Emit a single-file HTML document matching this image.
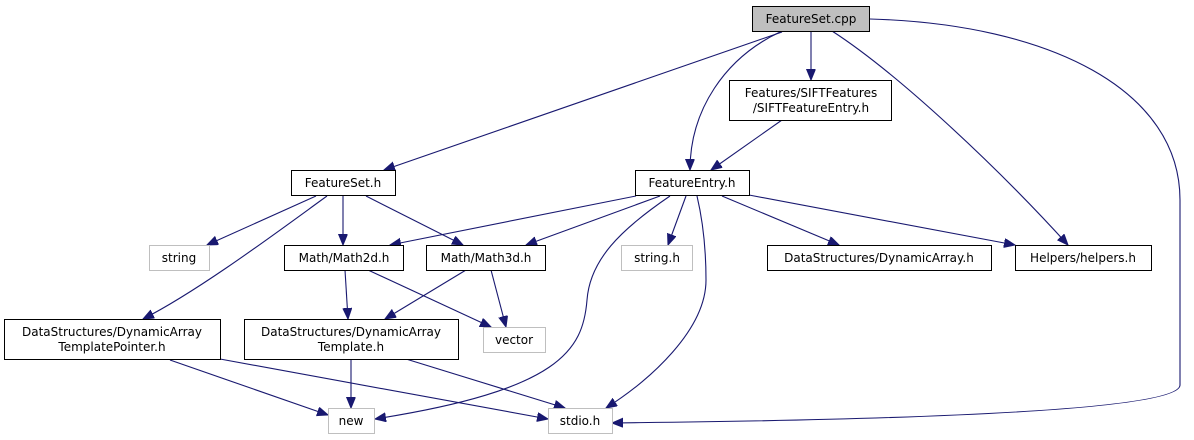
<!DOCTYPE html>
<html><head><meta charset="utf-8"><style>
html,body{margin:0;padding:0;background:#fff;}
svg{display:block;}
text{font-family:"DejaVu Sans","Liberation Sans",sans-serif;font-size:12px;fill:#000;}
</style></head><body>
<svg width="1194" height="440" viewBox="0 0 1194 440" xmlns="http://www.w3.org/2000/svg">
<defs>
<marker id="a" markerUnits="userSpaceOnUse" markerWidth="12" markerHeight="10" refX="11" refY="4.5" orient="auto">
<path d="M0,0 L11,4.5 L0,9 Z" fill="#191970" stroke="#191970"/>
</marker>
</defs>
<g fill="none" stroke="#191970" stroke-width="1.1" marker-end="url(#a)">
<path d="M782,32 L384,170"/>
<path d="M780,32 C725,58 690,110 690,170"/>
<path d="M811,31 L811,80"/>
<path d="M832,31 C900,75 1000,170 1068,245"/>
<path d="M870,19 C1050,24 1180,90 1180,200 L1180,385 C1180,420 660,422 612,423"/>
<path d="M782,120 L711,170"/>
<path d="M636,196 L390,245"/>
<path d="M660,196 L526,245"/>
<path d="M670,196 C620,230 590,260 587,300 C583,350 560,390 375,419"/>
<path d="M686,196 L668,245"/>
<path d="M697,196 C705,230 706,260 706,280 C706,330 650,380 606,408"/>
<path d="M722,196 L839,245"/>
<path d="M749,195 L1015,245"/>
<path d="M316,196 L207,245"/>
<path d="M327,196 C280,230 200,290 143,319"/>
<path d="M343,196 L343,245"/>
<path d="M366,196 L463,245"/>
<path d="M345,270 L348,319"/>
<path d="M368,270 L491,327"/>
<path d="M466,270 L385,319"/>
<path d="M491,270 L506,327"/>
<path d="M170,360 L328,415"/>
<path d="M220,359 L548,419"/>
<path d="M351,359 L351,408"/>
<path d="M406,359 L565,408"/>
</g>
<g stroke-width="1">
<rect x="752.5" y="6.5" width="117" height="25" fill="#bfbfbf" stroke="#000"/>
<rect x="729.5" y="80.5" width="162" height="40" fill="#fff" stroke="#000"/>
<rect x="635.5" y="170.5" width="114" height="25" fill="#fff" stroke="#000"/>
<rect x="621.5" y="245.5" width="71" height="25" fill="#fff" stroke="#bfbfbf"/>
<rect x="767.5" y="245.5" width="224" height="25" fill="#fff" stroke="#000"/>
<rect x="1015.5" y="245.5" width="136" height="25" fill="#fff" stroke="#000"/>
<rect x="291.5" y="170.5" width="104" height="25" fill="#fff" stroke="#000"/>
<rect x="149.5" y="245.5" width="60" height="25" fill="#fff" stroke="#bfbfbf"/>
<rect x="284.5" y="245.5" width="119" height="25" fill="#fff" stroke="#000"/>
<rect x="426.5" y="245.5" width="119" height="25" fill="#fff" stroke="#000"/>
<rect x="4.5" y="319.5" width="216" height="40" fill="#fff" stroke="#000"/>
<rect x="244.5" y="319.5" width="214" height="40" fill="#fff" stroke="#000"/>
<rect x="483.5" y="327.5" width="62" height="25" fill="#fff" stroke="#bfbfbf"/>
<rect x="328.5" y="408.5" width="46" height="25" fill="#fff" stroke="#bfbfbf"/>
<rect x="548.5" y="408.5" width="64" height="25" fill="#fff" stroke="#bfbfbf"/>
</g>
<g text-anchor="middle">
<text x="811" y="23">FeatureSet.cpp</text>
<text x="811" y="97">Features/SIFTFeatures</text>
<text x="811" y="112">/SIFTFeatureEntry.h</text>
<text x="692" y="187">FeatureEntry.h</text>
<text x="657" y="262">string.h</text>
<text x="879" y="262">DataStructures/DynamicArray.h</text>
<text x="1083" y="262">Helpers/helpers.h</text>
<text x="343" y="187">FeatureSet.h</text>
<text x="179" y="262">string</text>
<text x="344" y="262">Math/Math2d.h</text>
<text x="486" y="262">Math/Math3d.h</text>
<text x="112" y="336">DataStructures/DynamicArray</text>
<text x="112" y="351">TemplatePointer.h</text>
<text x="351" y="336">DataStructures/DynamicArray</text>
<text x="351" y="351">Template.h</text>
<text x="514" y="344">vector</text>
<text x="351" y="425">new</text>
<text x="580" y="425">stdio.h</text>
</g>
</svg>
</body></html>
